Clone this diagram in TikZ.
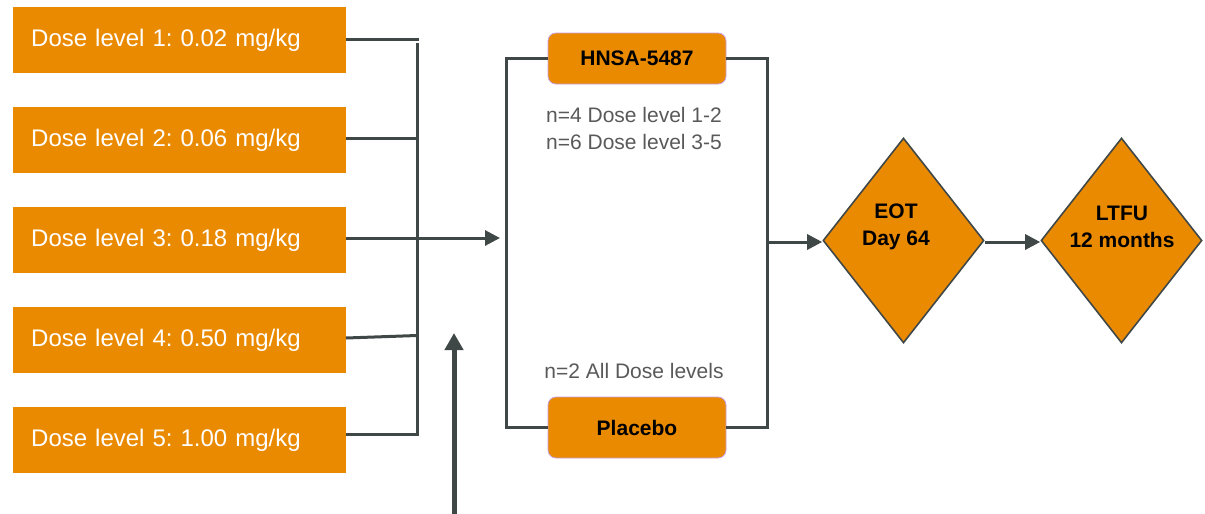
\documentclass[tikz,border=0pt]{standalone}
\usepackage{fontspec}
\setmainfont{Liberation Sans}
\frenchspacing
\usetikzlibrary{shapes.geometric,arrows.meta}
\definecolor{org}{HTML}{EA8A00}
\definecolor{ln}{HTML}{404847}
\definecolor{txt}{HTML}{595959}
\definecolor{lav}{HTML}{C8A0E0}
\begin{document}
\begin{tikzpicture}[x=1pt,y=-1pt,
  dosebox/.style={fill=org,draw=none,anchor=north west,text=white,
    text width=297pt,inner xsep=18pt,inner ysep=0pt,minimum height=66pt,align=left,
    font=\fontsize{24}{28}\selectfont},
  armbox/.style={fill=org,draw=lav,line width=0.8pt,rounded corners=8pt,
    minimum width=178pt,minimum height=51pt,inner sep=0pt,
    font=\fontsize{21}{25}\selectfont\bfseries},
  dia/.style={diamond,fill=org,draw=ln,line width=1.6pt,minimum width=161pt,
    minimum height=205pt,inner sep=0pt},
  diatext/.style={align=center,font=\fontsize{21}{27}\selectfont\bfseries},
  note/.style={align=center,text=txt,font=\fontsize{21}{27}\selectfont},
  conn/.style={draw=ln,line width=3pt},
  arr/.style={draw=ln,line width=3pt,-{Triangle[length=15pt,width=15pt]}},
]
\useasboundingbox (0,0) rectangle (1205,514);

% dose boxes
\node[dosebox] (d1) at (13,7) {Dose level 1: 0.02 mg/kg};
\node[dosebox] (d2) at (13,107) {Dose level 2: 0.06 mg/kg};
\node[dosebox] (d3) at (13,207) {Dose level 3: 0.18 mg/kg};
\node[dosebox] (d4) at (13,307) {Dose level 4: 0.50 mg/kg};
\node[dosebox] (d5) at (13,407) {Dose level 5: 1.00 mg/kg};

% collector coordinates
\coordinate (j1) at (419,39);
\coordinate (vtop) at (417,43);
\coordinate (vbot) at (417,434);
\coordinate (j4s) at (346,338);
\coordinate (j4) at (417,335.5);
\coordinate (bl) at (500,238);

\draw[conn] (d1.east |- j1) -- (j1);
\draw[conn] (vtop) -- (vbot) -- (d5.east |- vbot);
\draw[conn] (d2.east |- 0,138) -- (vtop |- 0,138);
\draw[conn] (j4s) -- (j4);
\draw[arr] (d3.east |- bl) -- (bl);

% big arrow
\coordinate (ba) at (454,514);
\coordinate (bt) at (454,333);
\draw[draw=ln,line width=5pt,-{Triangle[length=17pt,width=18pt]}] (ba) -- (bt);

% arms
\node[armbox] (hn) at (637,58.5) {HNSA-5487};
\node[armbox,minimum height=61pt] (pl) at (637,427.5) {Placebo};
\node[note] (n1) at (634,128.5) {n=4 Dose level 1-2\\n=6 Dose level 3-5};
\node[note] (n2) at (634,371) {n=2 All Dose levels};

\coordinate (lt) at (506,58.5);
\coordinate (lb) at (506,427.5);
\coordinate (rt) at (767,58.5);
\coordinate (rb) at (767,427.5);
\draw[conn] (hn.west) -- (lt) -- (lb) -- (pl.west);
\draw[conn] (hn.east) -- (rt) -- (rb) -- (pl.east);

% diamonds
\node[dia] (eot) at (903.5,240.5) {};
\node[dia] (ltfu) at (1121.5,240.5) {};
\node[diatext] (eott) at (896,227) {EOT\\Day 64};
\node[diatext] (ltfut) at (1122,227) {LTFU\\12 months};

\coordinate (rm) at (767,242);
\draw[arr] (rm) -- (eot.west |- rm);
\draw[arr] (eot.east |- rm) -- (ltfu.west |- rm);
\end{tikzpicture}
\end{document}
